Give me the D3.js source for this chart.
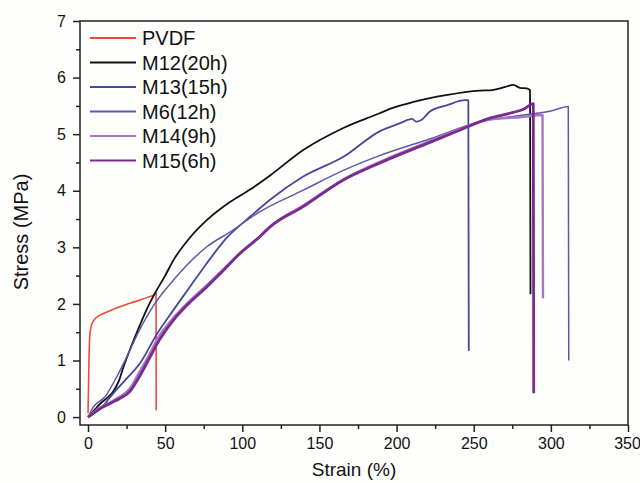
<!DOCTYPE html>
<html lang="en">

<head>
    <meta charset="UTF-8">
    <title>Stress-strain</title>
    <style>
        body {
            margin: 0;
            background-color: #fefefc;
        }

        svg {
            background-color: #fefefc;
            font-family: "Liberation Sans", Arial, sans-serif;
        }
    </style>
</head>

<body>
    <script src="https://d3js.org/d3.v7.min.js"></script>
    <script>
        // strain (%) / stress (MPa)
        const seriesNames = ['PVDF', 'M12(20h)', 'M13(15h)', 'M6(12h)', 'M14(9h)', 'M15(6h)'];
        const seriesColors = ['#f04a38', '#111111', '#46489e', '#5d58aa', '#a678c2', '#7a2c8e'];
        const seriesWidths = [1.6, 1.8, 1.8, 1.5, 2.4, 2.8];

        const pvdf = [[0, 0.07], [0.6, 1.0], [1.2, 1.45], [2, 1.6], [3.5, 1.7], [6, 1.77], [10, 1.83], [15, 1.89],
            [20.7, 1.95], [27, 2.01], [33.7, 2.07], [39, 2.12], [43.4, 2.17], [44.1, 2.2], [44.2, 0.12]];

        const m12 = [[0, 0], [4, 0.12], [8, 0.24], [12, 0.33], [16, 0.44], [20, 0.64], [23, 0.89], [28, 1.25],
            [33.7, 1.63], [38, 1.9], [43.4, 2.19], [50, 2.5], [55.3, 2.77], [66, 3.17], [77, 3.48], [92, 3.8],
            [105, 4.02], [118, 4.27], [139.5, 4.72], [165.5, 5.11], [189, 5.37], [196, 5.45],
            [211, 5.57], [232, 5.69], [254, 5.77], [262, 5.78], [270, 5.83], [275.6, 5.87], [280, 5.82],
            [284.3, 5.81], [286.5, 5.78], [286.8, 2.17]];

        const m13 = [[0, 0], [8, 0.15], [16.4, 0.42], [25, 0.68], [33.7, 0.95], [44.5, 1.46], [55.3, 1.89],
            [66, 2.3], [77, 2.72], [90, 3.17], [105, 3.54], [118, 3.84], [139.5, 4.25],
            [165.5, 4.6], [189, 5.05], [202, 5.19], [210, 5.27], [213, 5.22], [216, 5.25],
            [221.6, 5.4], [232.5, 5.51], [244.3, 5.6], [246.5, 5.6], [246.8, 1.17]];

        const m6 = [[0, 0], [3.5, 0.18], [11, 0.36], [18.6, 0.71], [24, 1.0], [33, 1.52], [43.4, 2.01],
            [55.3, 2.42], [77, 3.01], [92, 3.27], [111.5, 3.63], [139.5, 4.01], [165.5, 4.36],
            [189, 4.62], [222, 4.92], [254, 5.22], [280, 5.33], [300, 5.41],
            [311.3, 5.49], [311.6, 1.0]];

        const m14 = [[0, 0], [8, 0.17], [15, 0.27], [20, 0.35], [27, 0.5], [33, 0.78], [40, 1.12], [44.5, 1.36],
            [55, 1.74], [65, 2.03], [77, 2.33], [88, 2.62], [98.5, 2.9], [111.5, 3.2], [118, 3.37],
            [139.5, 3.74], [165.5, 4.2], [190, 4.52], [222, 4.88], [240, 5.08], [260, 5.26], [280, 5.3],
            [294.6, 5.34], [294.9, 2.1]];

        const m15 = [[0, 0], [8, 0.15], [15, 0.25], [20, 0.32], [27, 0.45], [33, 0.7], [40, 1.05], [44.5, 1.28],
            [55, 1.7], [65, 2.0], [77, 2.3], [88, 2.6], [98.5, 2.89], [111.5, 3.19], [118, 3.36],
            [139.5, 3.72], [165.5, 4.19], [190, 4.5], [222, 4.86], [240, 5.06], [260, 5.28], [275, 5.38],
            [283, 5.45], [288.6, 5.54], [288.9, 0.42]];

        const seriesData = [pvdf, m12, m13, m6, m14, m15];
        const xTicks = [0, 50, 100, 150, 200, 250, 300, 350];
        const yTicks = [0, 1, 2, 3, 4, 5, 6, 7];

        let svg = d3.select('body')
            .append('svg')
            .attr('width', 640)
            .attr('height', 483);

        let x = d3.scaleLinear().domain([-5.2, 350]).range([80, 628]);
        let y = d3.scaleLinear().domain([-0.14, 7]).range([425, 21]);

        // minor ticks
        let xMinor = d3.range(25, 350, 50);
        let yMinor = d3.range(0.5, 7, 1);

        svg.append('g')
            .attr('transform', 'translate(0,425)')
            .call(d3.axisBottom(x).tickValues(xMinor).tickSize(4).tickFormat(''));
        svg.append('g')
            .attr('transform', 'translate(80,0)')
            .call(d3.axisLeft(y).tickValues(yMinor).tickSize(4).tickFormat(''));

        svg.append('g')
            .attr('transform', 'translate(0,425)')
            .call(d3.axisBottom(x).tickValues(xTicks).tickSize(7).tickPadding(6).tickSizeOuter(0))
            .call(g => g.selectAll('.tick:last-of-type text').attr('dx', -1));
        svg.append('g')
            .attr('transform', 'translate(80,0)')
            .call(d3.axisLeft(y).tickValues(yTicks).tickSize(7).tickPadding(7).tickSizeOuter(0));

        svg.selectAll('.tick line').attr('stroke', '#222').attr('stroke-width', 1.5);
        svg.selectAll('.tick text').attr('font-size', 16).attr('font-family', '"Liberation Sans", Arial, sans-serif').attr('fill', '#111');
        svg.selectAll('.domain').attr('stroke', 'none');

        // frame
        svg.append('rect')
            .attr('x', 80).attr('y', 21)
            .attr('width', 548).attr('height', 404)
            .attr('fill', 'none')
            .attr('stroke', '#222')
            .attr('stroke-width', 1.5);

        let line = d3.line()
            .x(d => x(d[0]))
            .y(d => y(d[1]))
            .curve(d3.curveMonotoneX);

        svg.append('g')
            .selectAll('path')
            .data(seriesData)
            .enter()
            .append('path')
            .attr('d', line)
            .attr('fill', 'none')
            .attr('stroke', (d, i) => seriesColors[i])
            .attr('stroke-width', (d, i) => seriesWidths[i])
            .attr('stroke-linejoin', 'round');

        // legend
        let legend = svg.append('g')
            .selectAll('g')
            .data(seriesNames)
            .enter()
            .append('g')
            .attr('transform', (d, i) => `translate(0,${38 + i * 24.5})`);

        legend.append('line')
            .attr('x1', 90).attr('x2', 136)
            .attr('stroke', (d, i) => seriesColors[i])
            .attr('stroke-width', 1.8);

        legend.append('text')
            .attr('x', 142)
            .attr('dy', '0.35em')
            .attr('font-size', 20)
            .attr('fill', '#111')
            .text(d => d);

        // axis titles
        svg.append('text')
            .attr('x', 354).attr('y', 476)
            .attr('text-anchor', 'middle')
            .attr('font-size', 19)
            .attr('fill', '#111')
            .text('Strain (%)');

        svg.append('text')
            .attr('transform', 'translate(28,232) rotate(-90)')
            .attr('text-anchor', 'middle')
            .attr('font-size', 20)
            .attr('fill', '#111')
            .text('Stress (MPa)');
    </script>
</body>

</html>
